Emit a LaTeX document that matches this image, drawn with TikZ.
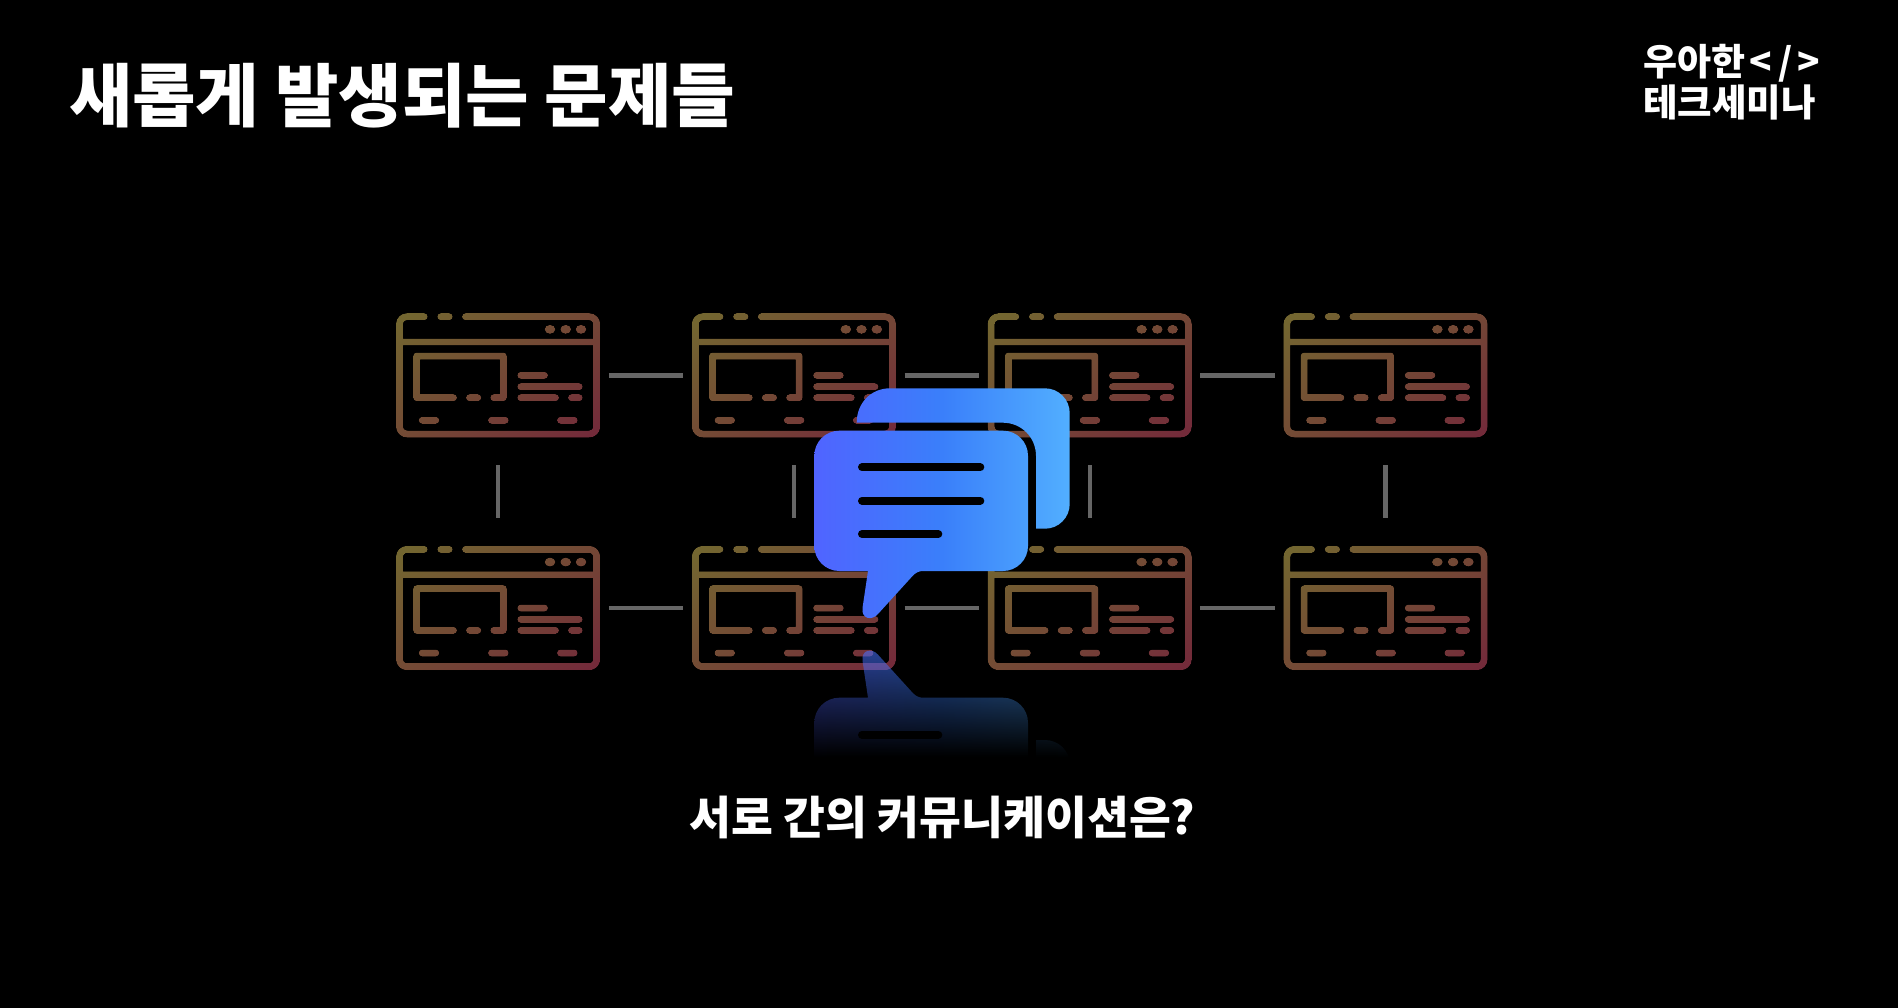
\documentclass[tikz,border=0pt]{standalone}
\usepackage{fontspec}
\newfontfamily\kr{Noto Sans CJK KR}
\usetikzlibrary{fadings}
\definecolor{winA}{HTML}{736630}
\definecolor{winM}{HTML}{774E38}
\definecolor{winB}{HTML}{732B3A}
\definecolor{bubA}{HTML}{5064FF}
\definecolor{bubB}{HTML}{3A7FFA}
\definecolor{bubC}{HTML}{52AFFF}
\definecolor{linkgray}{HTML}{666666}
\pgfdeclarehorizontalshading{bubbleshade}{100bp}{color(0bp)=(bubA);color(25bp)=(bubA);color(50bp)=(bubB);color(75bp)=(bubC);color(100bp)=(bubC)}
\tikzset{
  wstroke/.style={line width=7pt,line cap=round,line join=round,shorten <=1.5pt,shorten >=1.5pt},
  winbox/.style={inner sep=0pt,outer sep=0pt,minimum width=204.2pt,minimum height=124.3pt},
  linkline/.style={draw=linkgray,line width=4.4pt},
  hlink/.style={linkline,shorten <=8.6pt,shorten >=8.6pt},
  vlink/.style={linkline,shorten <=27.6pt,shorten >=28pt},
  slit/.style={black,line width=8pt,line cap=round},
  txt/.style={white,inner sep=0pt,outer sep=0pt,font=\kr\bfseries},
}
\begin{tikzfadingfrompicture}[name=winmask,x=1pt,y=-1pt]
  \useasboundingbox (-104,-64) rectangle (104,64);
  \begin{scope}[transparent!0,draw=transparent!0,fill=transparent!0]
  \draw[wstroke,rounded corners=7.5pt] (-72.4,-58.65) -- (-98.6,-58.65) -- (-98.6,58.65) -- (98.6,58.65) -- (98.6,-58.65) -- (-34.1,-58.65);
  \draw[wstroke] (-58.8,-58.65) -- (-47.4,-58.65);
  \draw[line width=6.8pt] (-98.6,-33.35) -- (98.6,-33.35);
  \fill (51.9,-46) ellipse (5.4pt and 4.5pt);
  \fill (67.6,-46) ellipse (5.4pt and 4.5pt);
  \fill (82.9,-46) ellipse (5.4pt and 4.5pt);
  \draw[wstroke] (-43.1,22.35) -- (-81.4,22.35) -- (-81.4,-19.35) -- (5.2,-19.35) -- (5.2,22.35) -- (-5.8,22.35);
  \draw[wstroke] (-30.1,22.35) -- (-18.8,22.35);
  \draw[wstroke] (21.2,0) -- (47.9,0);
  \draw[wstroke] (21.2,11.35) -- (82.6,11.35);
  \draw[wstroke] (21.2,22.35) -- (58.9,22.35);
  \draw[wstroke] (71.9,22.35) -- (82.6,22.35);
  \draw[wstroke] (-77.4,44.95) -- (-60.8,44.95);
  \draw[wstroke] (-8.1,44.95) -- (8.6,44.95);
  \draw[wstroke] (60.9,44.95) -- (77.6,44.95);
  \end{scope}
\end{tikzfadingfrompicture}
\tikzfading[name=reflectfade,top color=transparent!40,bottom color=transparent!100]
\newcommand\wicon[3]{%
  \node[winbox] (#1) at (#2,#3) {};
  \begin{scope}
    \clip ({#2-104},{#3-64}) rectangle ({#2+104},{#3+64});
    \shade[top color=winA,middle color=winM,bottom color=winB,shading angle=35,path fading=winmask,fit fading=false,fading transform={shift={(#2,#3)}}]
      ({#2-130},{#3-80}) rectangle ({#2+130},{#3+80});
  \end{scope}
}
\begin{document}
\begin{tikzpicture}[x=1pt,y=-1pt]
  \useasboundingbox (0,0) rectangle (1898,1008);
  \fill[black] (0,0) rectangle (1898,1008);
  \wicon{a1}{498.1}{375.35}
  \wicon{a2}{793.9}{375.35}
  \wicon{a3}{1089.7}{375.35}
  \wicon{a4}{1385.5}{375.35}
  \wicon{b1}{498.1}{608.05}
  \wicon{b2}{793.9}{608.05}
  \wicon{b3}{1089.7}{608.05}
  \wicon{b4}{1385.5}{608.05}
  \draw[hlink] (a1.east) -- (a2.west);
  \draw[hlink] (a2.east) -- (a3.west);
  \draw[hlink] (a3.east) -- (a4.west);
  \draw[hlink] (b1.east) -- (b2.west);
  \draw[hlink] (b2.east) -- (b3.west);
  \draw[hlink] (b3.east) -- (b4.west);
  \draw[vlink] (a1.south) -- (b1.north);
  \draw[vlink] (a2.south) -- (b2.north);
  \draw[vlink] (a3.south) -- (b3.north);
  \draw[vlink] (a4.south) -- (b4.north);
  % reflection
  \begin{scope}
    \clip (1003,838) .. controls (1016.8,838) and (1028,826.8) .. (1028,813) -- (1028,722.7)
      .. controls (1028,708.9) and (1016.8,697.7) .. (1003,697.7) -- (923,697.7)
      .. controls (919,697.7) and (916,696.2) .. (913,693.2) -- (878,654.7)
      .. controls (872,647.7) and (861,649.7) .. (862.5,660.7) -- (868,697.7) -- (839.3,697.7)
      .. controls (825.5,697.7) and (814.3,708.9) .. (814.3,722.7) -- (814.3,813)
      .. controls (814.3,826.8) and (825.5,838) .. (839.3,838) -- cycle
      (1036,740) -- (1045,740) .. controls (1058.6,740) and (1069.7,751) .. (1069.7,764) -- (1036,764) -- cycle;
    \shade[shading=bubbleshade,path fading=reflectfade] (814,648) rectangle (1070,757);
  \end{scope}
  \draw[black,line width=8pt,line cap=round] (862,734.7) -- (938.3,734.7);
  % bubbles
  \begin{scope}
    \clip (856.7,422.7) .. controls (856.7,403) and (871,388.3) .. (890,388.3) -- (1045,388.3)
      .. controls (1058.6,388.3) and (1069.7,399.4) .. (1069.7,413) -- (1069.7,504)
      .. controls (1069.7,517.6) and (1058.6,528.7) .. (1045,528.7) -- (1036,528.7) -- (1036,456)
      .. controls (1036,437) and (1021,422.7) .. (1003,422.7) -- cycle;
    \shade[shading=bubbleshade] (814,380) rectangle (1070,625);
  \end{scope}
  \begin{scope}
    \clip (839.3,430.7) -- (1003,430.7) .. controls (1016.8,430.7) and (1028,441.9) .. (1028,455.7) -- (1028,546)
      .. controls (1028,559.8) and (1016.8,571) .. (1003,571) -- (923,571)
      .. controls (919,571) and (916,572.5) .. (913,575.5) -- (878,614)
      .. controls (872,621) and (861,619) .. (862.5,608) -- (868,571) -- (839.3,571)
      .. controls (825.5,571) and (814.3,559.8) .. (814.3,546) -- (814.3,455.7)
      .. controls (814.3,441.9) and (825.5,430.7) .. (839.3,430.7) -- cycle;
    \shade[shading=bubbleshade] (814,380) rectangle (1070,625);
  \end{scope}
  \draw[slit] (862,467.3) -- (980.3,467.3);
  \draw[slit] (862,500.7) -- (980.3,500.7);
  \draw[slit] (862,534) -- (938.3,534);
  % text
  \node[txt,anchor=west] (title) at (69,96) {\fontsize{69}{80}\selectfont 새롭게 발생되는 문제들};
  \node[txt] (sub) at (942.5,817) {\fontsize{45.5}{54}\selectfont 서로 간의 커뮤니케이션은?};
  \node[txt,anchor=west] (logoa) at (1643,63) {\fontsize{37}{42}\selectfont 우아한\kern4pt<\kern7pt/\kern5pt>};
  \node[txt,anchor=west] (logob) at (1643,102) {\fontsize{37.5}{42}\selectfont 테크세미나};
\end{tikzpicture}
\end{document}
